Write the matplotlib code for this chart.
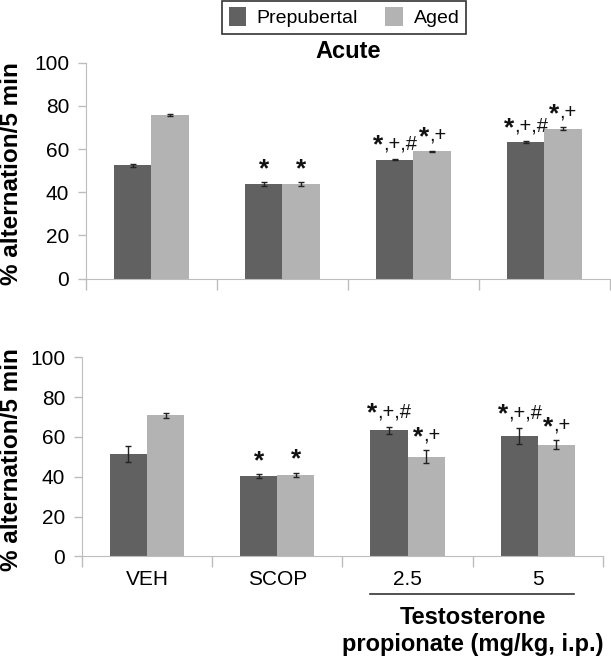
import matplotlib
matplotlib.use('Agg')
import matplotlib.pyplot as plt
import numpy as np

plt.rcParams['font.family'] = ['Liberation Sans', 'DejaVu Sans']

groups = ['VEH', 'SCOP', '2.5', '5']
series = ['Prepubertal', 'Aged']
colors = ['#616161', '#b3b3b3']

acute_pre = [52.4, 43.7, 55.1, 63.2]
acute_pre_err = [0.6, 0.8, 0.4, 0.3]
acute_aged = [75.9, 43.7, 58.9, 69.5]
acute_aged_err = [0.5, 0.8, 0.4, 0.6]
acute_marks_pre = ['', '*', '*,+,#', '*,+,#']
acute_marks_aged = ['', '*', '*,+', '*,+']

sub_pre = [51.4, 40.3, 63.3, 60.6]
sub_pre_err = [4.0, 1.0, 1.7, 4.0]
sub_aged = [71.0, 41.0, 50.0, 56.2]
sub_aged_err = [1.3, 1.0, 3.3, 2.2]
sub_marks_pre = ['', '*', '*,+,#', '*,+,#']
sub_marks_aged = ['', '*', '*,+', '*,+']

yticks = [0, 20, 40, 60, 80, 100]
ylabel = '% alternation/5 min'

fig = plt.figure(figsize=(6.11, 6.6), dpi=100)
ax1 = fig.add_axes([0.1408, 0.578, 0.857, 0.327])
ax2 = fig.add_axes([0.134, 0.157, 0.853, 0.3015])

w = 0.285
x = np.arange(len(groups))

# rough glyph widths (em) for Liberation Sans
glyph_w = {',': 0.278, '+': 0.584, '#': 0.556}
star_size = 19
rest_size = 14.5


def mark(ax, xi, y, m):
    # big bold star followed by smaller ",+,#"
    rest = m[1:]
    ws = 0.36 * star_size
    wr = sum(glyph_w[c] for c in rest) * rest_size
    left = -(ws + wr) / 2
    base = 7
    ax.annotate('*', (xi, y), xytext=(left, base - 2.5), textcoords='offset points',
                ha='left', va='baseline', fontsize=star_size, fontweight='bold',
                color='#111111')
    if rest:
        ax.annotate(rest, (xi, y), xytext=(left + ws + 0.5, base), textcoords='offset points',
                    ha='left', va='baseline', fontsize=rest_size, color='#111111')


def draw(ax, pre, pre_err, aged, aged_err, marks_pre, marks_aged, show_labels):
    bars = []
    for vals, errs, marks, col, off, name in [(pre, pre_err, marks_pre, colors[0], -w / 2, series[0]),
                                              (aged, aged_err, marks_aged, colors[1], w / 2, series[1])]:
        b = ax.bar(x + off, vals, w, color=col, label=name, zorder=2)
        ax.errorbar(x + off, vals, yerr=errs, fmt='none', ecolor='#222222',
                    elinewidth=1, capsize=2.5, capthick=1, zorder=3)
        for xi, v, e, m in zip(x + off, vals, errs, marks):
            if m:
                mark(ax, xi, v + e, m)
        bars.append(b)
    ax.set_xlim(-0.5, 3.5)
    ax.set_ylim(0, 100)
    ax.set_yticks(yticks)
    ax.set_xticks(np.arange(-0.5, 4, 1.0))
    ax.set_xticklabels([])
    ax.tick_params(axis='x', length=8, color='#bdbdbd', width=1)
    ax.tick_params(axis='y', length=6, color='#bdbdbd', width=1, labelsize=15, pad=6)
    if show_labels:
        for xi, g in zip(x, groups):
            ax.text(xi, -7, g, ha='center', va='top', fontsize=15,
                    transform=ax.transData)
    for s in ['top', 'right']:
        ax.spines[s].set_visible(False)
    for s in ['left', 'bottom']:
        ax.spines[s].set_color('#bdbdbd')
    pos = ax.get_position()
    fig.text(12 / 611, pos.y0 + pos.height / 2 - 0.004, ylabel, rotation=90,
             ha='center', va='center', fontsize=17.5, fontweight='bold')
    return bars


bars = draw(ax1, acute_pre, acute_pre_err, acute_aged, acute_aged_err,
            acute_marks_pre, acute_marks_aged, False)
draw(ax2, sub_pre, sub_pre_err, sub_aged, sub_aged_err,
     sub_marks_pre, sub_marks_aged, True)

ax1.set_title('Acute', fontsize=17, fontweight='bold', pad=3)

ax2.plot([1.71, 3.28], [-19, -19], color='#333333', lw=1.2, clip_on=False,
         transform=ax2.transData)
ax2.text(2.5, -25, 'Testosterone\npropionate (mg/kg, i.p.)', ha='center', va='top',
         fontsize=17, fontweight='bold', linespacing=1.2, transform=ax2.transData)

leg = fig.legend(handles=bars, labels=series, loc='upper center',
                 bbox_to_anchor=(0.563, 0.999), ncol=2, fontsize=14, frameon=True,
                 fancybox=False, edgecolor='black', handlelength=0.9, handleheight=1.1,
                 columnspacing=1.4, borderpad=0.35, handletextpad=0.55, borderaxespad=0)
leg.get_frame().set_linewidth(1.2)

fig.savefig('out.png', dpi=100)
